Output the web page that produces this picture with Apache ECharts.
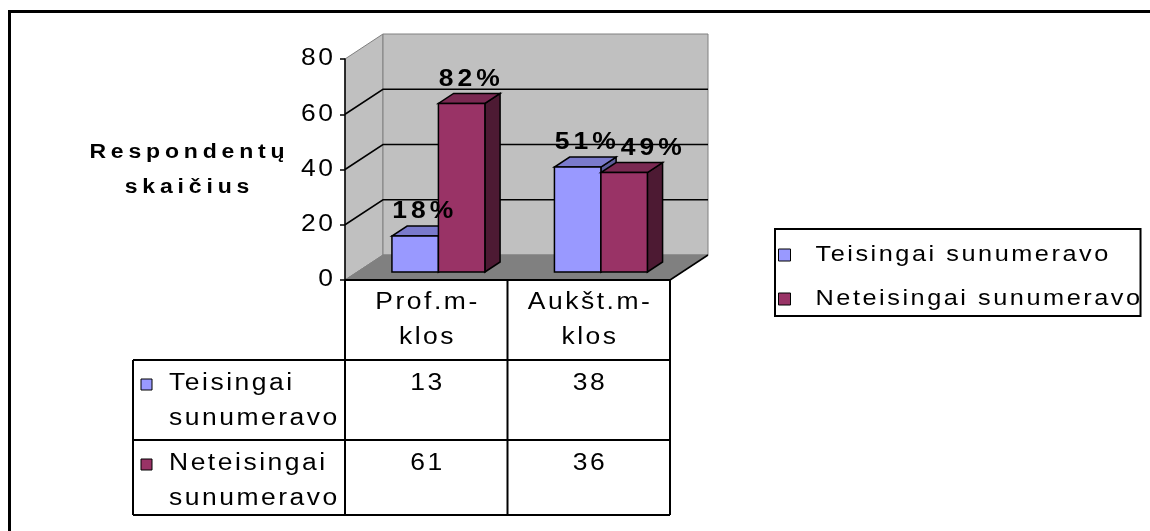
<!DOCTYPE html>
<html>
<head>
<meta charset="utf-8">
<script src="https://cdn.jsdelivr.net/npm/echarts@6/dist/echarts.min.js"></script>
<style>
  html, body { margin: 0; padding: 0; background: #ffffff; }
  #chart { width: 1150px; height: 531px; }
</style>
</head>
<body>
<div id="chart"></div>
<script>
// ---- data ----
const categories = ['Prof.m-klos', 'Aukšt.m-klos'];
const seriesNames = ['Teisingai sunumeravo', 'Neteisingai sunumeravo'];
const correctCounts = [13, 38];
const incorrectCounts = [61, 36];
const yTicks = [0, 20, 40, 60, 80];
const yAxisTitle = 'Respondentų\nskaičius';

// ---- style ----
const FONT = 'Arial, "Liberation Sans", sans-serif';
const FRONT = ['#9999FF', '#993366'];
const TOP = ['#7A7ACC', '#7A2952'];
const SIDE = ['#5C5C99', '#4D1A33'];
const WALL_DX = 38, WALL_DY = -25;          // depth of the plot box
const BAR_POS = 0.32, BAR_DEPTH = 0.4;       // bar front position / thickness within the depth
const BAR_WIDTH_RATIO = 0.286;
const TABLE_LEFT = 133;
const ROW_H = [80, 80, 75];
const TEXT_STRETCH = 1.15;

// wide, spreadsheet-style lettering: glyphs stretched horizontally plus extra tracking
const baseFillText = CanvasRenderingContext2D.prototype.fillText;
CanvasRenderingContext2D.prototype.fillText = function (text, x, y, maxWidth) {
  const bold = /bold|[6-9]00/.test(this.font);
  const sizeMatch = /(\d+(?:\.\d+)?)px/.exec(this.font);
  const size = sizeMatch ? parseFloat(sizeMatch[1]) : 12;
  let s = 2.2;
  if (bold) s = size < 22 ? 4.2 : 3.5;
  let off = 0;
  if (this.textAlign === 'center') off = s / 2;
  else if (this.textAlign === 'right' || this.textAlign === 'end') off = s;
  this.save();
  this.letterSpacing = s + 'px';
  this.translate(x, y);
  this.scale(TEXT_STRETCH, 1);
  const r = maxWidth === undefined
    ? baseFillText.call(this, text, off, 0)
    : baseFillText.call(this, text, off, 0, maxWidth);
  this.restore();
  return r;
};

const seriesValues = [correctCounts, incorrectCounts];
const totals = categories.map((c, i) => correctCounts[i] + incorrectCounts[i]);

function barGeom(api, ci, s, v) {
  const base = api.coord([ci, 0]);
  const top = api.coord([ci, v]);
  const band = api.size([1, 0])[0];
  const bw = band * BAR_WIDTH_RATIO;
  const xl = base[0] - bw + s * bw + WALL_DX * BAR_POS;
  return { xl: xl, xr: xl + bw, yb: base[1] + WALL_DY * BAR_POS, yt: top[1] + WALL_DY * BAR_POS };
}

function labelPos(api, ci, s) {
  const g = barGeom(api, ci, s, seriesValues[s][ci]);
  const dx = WALL_DX * BAR_DEPTH, dy = WALL_DY * BAR_DEPTH;
  return [(g.xl + g.xr) / 2 + dx / 2, g.yt + dy - 14];
}

function poly(points, fill, stroke, lw) {
  return { type: 'polygon', shape: { points: points },
    style: { fill: fill, stroke: stroke, lineWidth: lw, lineJoin: 'miter' } };
}
function line(x1, y1, x2, y2, color, lw) {
  return { type: 'line', shape: { x1: x1, y1: y1, x2: x2, y2: y2 },
    style: { stroke: color, lineWidth: lw } };
}
function text(str, x, y, opts) {
  return { type: 'text', style: Object.assign({
    text: str, x: x, y: y, fill: '#000',
    fontFamily: FONT, fontSize: 23,
    align: 'left', verticalAlign: 'middle', textAlign: 'left', textVerticalAlign: 'middle'
  }, opts || {}) };
}

// walls, floor and back gridlines
function renderWalls(params, api) {
  const cs = params.coordSys;
  const x0 = cs.x, x1 = cs.x + cs.width;
  const yb = api.coord([0, yTicks[0]])[1];
  const yt = api.coord([0, yTicks[yTicks.length - 1]])[1];
  const dx = WALL_DX, dy = WALL_DY;
  const children = [
    poly([[x0, yb], [x0 + dx, yb + dy], [x0 + dx, yt + dy], [x0, yt]], '#C0C0C0', '#808080', 1),
    poly([[x0 + dx, yb + dy], [x1 + dx, yb + dy], [x1 + dx, yt + dy], [x0 + dx, yt + dy]], '#C0C0C0', '#808080', 1),
    poly([[x0, yb], [x1, yb], [x1 + dx, yb + dy], [x0 + dx, yb + dy]], '#808080', '#808080', 1)
  ];
  yTicks.slice(1, -1).forEach(function (t) {
    const y = api.coord([0, t])[1];
    children.push({ type: 'polyline', shape: { points: [[x0, y], [x0 + dx, y + dy], [x1 + dx, y + dy]] },
      style: { stroke: '#000', lineWidth: 1.5, fill: null } });
  });
  children.push(line(x1, yb, x1 + dx, yb + dy, '#000', 1.5));
  // value-axis title, left of the axis and centred on its span
  const title = text(yAxisTitle, x0 - 158, (yb + yt) / 2,
    { fontWeight: 'bold', fontSize: 20, lineHeight: 35, align: 'center', textAlign: 'center' });
  title.z2 = 100;
  children.push(title);
  return { type: 'group', children: children };
}

// 3D column with its percentage label
function renderBar(params, api) {
  const s = params.seriesIndex - 1;
  const ci = api.value(0);
  const v = api.value(1);
  const g = barGeom(api, ci, s, v);
  const dx = WALL_DX * BAR_DEPTH, dy = WALL_DY * BAR_DEPTH;
  const lp = labelPos(api, ci, s);
  if (s === 1) {
    const other = labelPos(api, ci, 0);
    if (Math.abs(lp[1] - other[1]) < 24 && lp[0] - other[0] < 66) lp[0] = other[0] + 66;
  }
  const pct = Math.round(v / totals[ci] * 100) + '%';
  const label = text(pct, lp[0], lp[1], { fontWeight: 'bold', fontSize: 23, align: 'center', textAlign: 'center' });
  label.z2 = 100;
  return { type: 'group', children: [
    poly([[g.xr, g.yb], [g.xr + dx, g.yb + dy], [g.xr + dx, g.yt + dy], [g.xr, g.yt]], SIDE[s], '#000', 1.5),
    poly([[g.xl, g.yt], [g.xr, g.yt], [g.xr + dx, g.yt + dy], [g.xl + dx, g.yt + dy]], TOP[s], '#000', 1.5),
    poly([[g.xl, g.yb], [g.xr, g.yb], [g.xr, g.yt], [g.xl, g.yt]], FRONT[s], '#000', 1.5),
    label
  ] };
}

// data table under the plot
function renderTable(params, api) {
  const cs = params.coordSys;
  const band = api.size([1, 0])[0];
  const cols = [cs.x];
  categories.forEach(function (c, i) { cols.push(api.coord([i, 0])[0] + band / 2); });
  const yb = api.coord([0, 0])[1];
  const rows = [yb];
  ROW_H.forEach(function (h, i) { rows.push(rows[i] + h); });
  const last = rows[rows.length - 1];
  const right = cols[cols.length - 1];
  const ch = [];
  cols.forEach(function (x) { ch.push(line(x, yb, x, last, '#000', 2)); });
  ch.push(line(cols[0], yb, right, yb, '#000', 2));
  rows.slice(1).forEach(function (y) { ch.push(line(TABLE_LEFT, y, right, y, '#000', 2)); });
  ch.push(line(TABLE_LEFT, rows[1], TABLE_LEFT, last, '#000', 2));
  categories.forEach(function (c, i) {
    ch.push(text(c.replace('-', '-\n'), (cols[i] + cols[i + 1]) / 2, (rows[0] + rows[1]) / 2,
      { align: 'center', textAlign: 'center', lineHeight: 34.5 }));
  });
  seriesNames.forEach(function (name, s) {
    const top = rows[s + 1];
    ch.push({ type: 'rect', shape: { x: TABLE_LEFT + 8, y: top + 19, width: 11, height: 11 },
      style: { fill: FRONT[s], stroke: '#000', lineWidth: 1 } });
    ch.push(text(name.replace(' ', '\n'), TABLE_LEFT + 36, top + 6.5,
      { verticalAlign: 'top', textVerticalAlign: 'top', lineHeight: 35 }));
    categories.forEach(function (c, i) {
      ch.push(text(String(seriesValues[s][i]), (cols[i] + cols[i + 1]) / 2, top + 24,
        { align: 'center', textAlign: 'center' }));
    });
  });
  return { type: 'group', children: ch };
}

const chart = echarts.init(document.getElementById('chart'));
chart.setOption({
  animation: false,
  backgroundColor: '#ffffff',
  grid: { left: 345, top: 59, width: 325, height: 221, outerBoundsMode: 'none' },
  xAxis: { type: 'category', data: categories, show: false },
  yAxis: {
    type: 'value', min: yTicks[0], max: yTicks[yTicks.length - 1], interval: 20, z: 5,
    axisLine: { show: true, lineStyle: { color: '#000', width: 1.5 } },
    axisTick: { show: true, inside: false, length: 5, lineStyle: { color: '#000', width: 1.5 } },
    axisLabel: { fontFamily: FONT, fontSize: 23, color: '#000', margin: 12 },
    splitLine: { show: false }
  },
  legend: {
    data: seriesNames, orient: 'vertical', left: 775, top: 229,
    padding: [15, 89, 6, 3], itemGap: 22, itemWidth: 12, itemHeight: 12,
    borderColor: '#000', borderWidth: 2, icon: 'rect',
    itemStyle: { borderColor: '#000', borderWidth: 1 },
    formatter: function (name) { return '{g|}' + name; },
    textStyle: { fontFamily: FONT, fontSize: 22, color: '#000', rich: { g: { width: 20 } } }
  },
  graphic: [{
    type: 'rect', shape: { x: 9.5, y: 11.5, width: 1300, height: 700 },
    style: { fill: null, stroke: '#000', lineWidth: 3 }, silent: true
  }],
  series: [
    { type: 'custom', name: 'walls', renderItem: renderWalls, data: [[0, 0]], silent: true },
    { type: 'custom', name: seriesNames[0], renderItem: renderBar, itemStyle: { color: FRONT[0] },
      data: categories.map(function (c, i) { return [i, correctCounts[i]]; }) },
    { type: 'custom', name: seriesNames[1], renderItem: renderBar, itemStyle: { color: FRONT[1] },
      data: categories.map(function (c, i) { return [i, incorrectCounts[i]]; }) },
    { type: 'custom', name: 'table', renderItem: renderTable, data: [[0, 0]], silent: true }
  ]
});
</script>
</body>
</html>
